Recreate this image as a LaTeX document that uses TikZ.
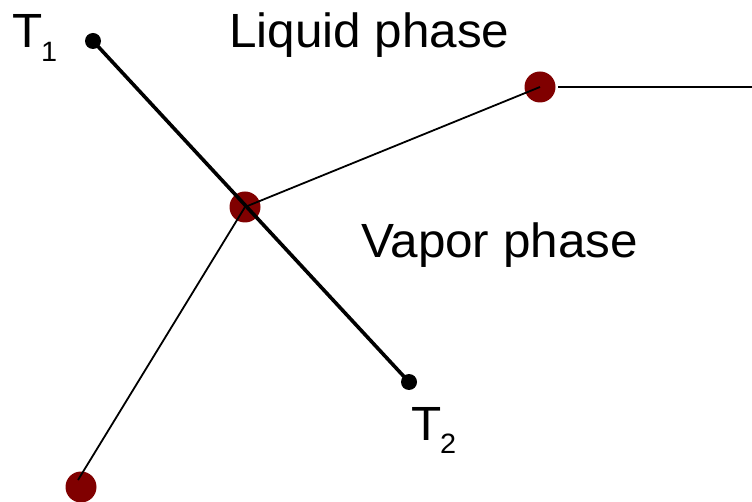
\documentclass[tikz,border=0pt]{standalone}
\usepackage{fontspec}
\setmainfont{Liberation Sans}
\definecolor{dotred}{RGB}{128,0,0}
\tikzset{
  lbl/.style={inner sep=0pt, anchor=base west, xscale=1.03, font=\fontsize{48}{48}\selectfont},
  sub/.style={inner sep=0pt, anchor=base west, xscale=1.03, font=\fontsize{28}{28}\selectfont},
  blackdot/.style={circle, fill=black, inner sep=0pt, minimum size=16pt},
  reddot/.style={circle, fill=dotred, inner sep=0pt, minimum size=31pt},
  thinline/.style={line width=1.8pt},
  thickline/.style={line width=3.6pt}
}
\begin{document}
\begin{tikzpicture}[x=1pt,y=-1pt]
\useasboundingbox (0,0) rectangle (752,502);
% red dots
\node[reddot] (r1) at (245,207) {};
\node[reddot] (r2) at (540,87) {};
\node[reddot] (r3) at (81,487) {};
\coordinate (rs) at (558,87);
\coordinate (re) at (752,87);
\coordinate (r3end) at (78,480);
% thin lines
\draw[thinline] (r1.center) -- (r2.center);
\draw[thinline] (r1.center) -- (r3end);
\draw[thinline] (rs) -- (re);
% black dots and thick line
\node[blackdot] (t1) at (93,41) {};
\node[blackdot] (t2) at (409,382) {};
\draw[thickline] (t1.center) -- (t2.center);
% labels
\node[lbl] (t1l) at (12,48) {T};
\node[sub] (t1s) at (41,62) {1};
\node[lbl] (t2l) at (411,440) {T};
\node[sub] (t2s) at (440,453) {2};
\node[lbl] (liq) at (229,48) {Liquid phase};
\node[lbl] (vap) at (361,258) {Vapor phase};
\end{tikzpicture}
\end{document}
